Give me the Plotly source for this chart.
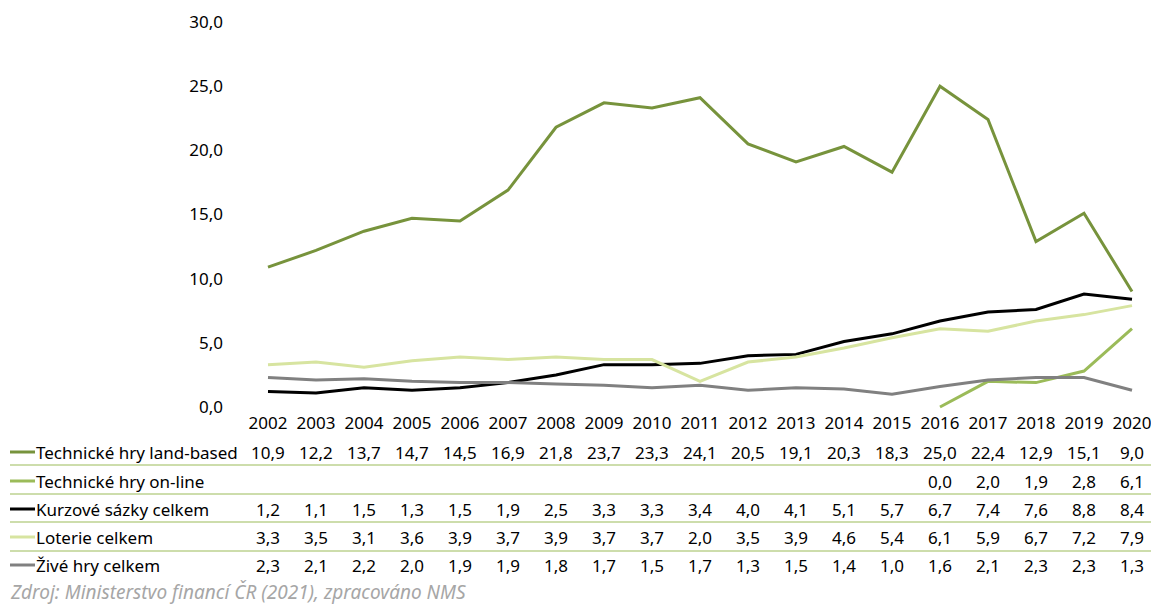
import plotly.graph_objects as go

# Données
roky = list(range(2002, 2021))
land_based = [10.9, 12.2, 13.7, 14.7, 14.5, 16.9, 21.8, 23.7, 23.3, 24.1, 20.5, 19.1, 20.3, 18.3, 25.0, 22.4, 12.9, 15.1, 9.0]
on_line = [None] * 14 + [0.0, 2.0, 1.9, 2.8, 6.1]
kurzove = [1.2, 1.1, 1.5, 1.3, 1.5, 1.9, 2.5, 3.3, 3.3, 3.4, 4.0, 4.1, 5.1, 5.7, 6.7, 7.4, 7.6, 8.8, 8.4]
loterie = [3.3, 3.5, 3.1, 3.6, 3.9, 3.7, 3.9, 3.7, 3.7, 2.0, 3.5, 3.9, 4.6, 5.4, 6.1, 5.9, 6.7, 7.2, 7.9]
zive = [2.3, 2.1, 2.2, 2.0, 1.9, 1.9, 1.8, 1.7, 1.5, 1.7, 1.3, 1.5, 1.4, 1.0, 1.6, 2.1, 2.3, 2.3, 1.3]

nazvy = ["Technické hry land-based", "Technické hry on-line", "Kurzové sázky celkem", "Loterie celkem", "Živé hry celkem"]
barvy = ["#77933c", "#9bbb59", "#000000", "#d7e4a0", "#808080"]
serie = [land_based, on_line, kurzove, loterie, zive]
zdroj = "Zdroj: Ministerstvo financí ČR (2021), zpracováno NMS"

# stránka má okraj 8 px (body margin) -> viditelná plocha je cca 1143 x 597
OFF = 8
W, H = 1159 - 2 * OFF, 605 - OFF
L = 230 - OFF
R = 16
plot_bottom = 410 - OFF
B = H - plot_bottom
plot_w = W - L - R
font = "Noto Sans, Open Sans, sans-serif"
fs = 17


def py(px):
    # pixel v referenci (od vrchu okna) -> souřadnice paper
    return (plot_bottom - (px - OFF)) / plot_bottom


def pxx(px):
    return (px - OFF - L) / plot_w


fig = go.Figure()
for nazev, barva, hodnoty in zip(nazvy, barvy, serie):
    fig.add_trace(go.Scatter(x=roky, y=hodnoty, name=nazev, mode="lines",
                             line=dict(color=barva, width=3), connectgaps=False))

# Tabulka pod grafem
radky_y = [452, 481, 509, 537, 565]
for nazev, barva, hodnoty, ry in zip(nazvy, barvy, serie, radky_y):
    fig.add_shape(type="line", xref="paper", yref="paper", x0=pxx(10), x1=pxx(35), y0=py(ry), y1=py(ry),
                  line=dict(color=barva, width=3))
    fig.add_annotation(x=pxx(34), y=py(ry), xref="paper", yref="paper", text=nazev, showarrow=False,
                       xanchor="left", yanchor="middle", font=dict(size=fs, color="#000000"))
    for rok, v in zip(roky, hodnoty):
        if v is None:
            continue
        fig.add_annotation(x=rok, y=py(ry), xref="x", yref="paper", text=f"{v:.1f}".replace(".", ","),
                           showarrow=False, xanchor="center", yanchor="middle",
                           font=dict(size=fs, color="#000000"))

for ly in [465, 494, 522, 551]:
    fig.add_shape(type="line", xref="paper", yref="paper", x0=pxx(10), x1=pxx(1151), y0=py(ly), y1=py(ly),
                  line=dict(color="#9bbb59", width=1))

# zdroj
fig.add_annotation(x=pxx(8), y=py(592), xref="paper", yref="paper", text=f"<i>{zdroj}</i>", showarrow=False,
                   xanchor="left", yanchor="middle", font=dict(size=19, color="#a6a6a6"))

px_per_year = (1132 - 268) / 18
x0 = 2002 - (268 - 230) / px_per_year
x1 = x0 + plot_w / px_per_year
px_per_unit = (407 - 22) / 30
y0 = -(410 - 407) / px_per_unit
y1 = 30 + (22 - OFF) / px_per_unit

fig.update_layout(
    width=W, height=H,
    margin=dict(l=L, r=R, t=0, b=B),
    paper_bgcolor="white", plot_bgcolor="white",
    showlegend=False,
    separators=",.",
    font=dict(family=font, size=fs, color="#000000"),
    xaxis=dict(range=[x0, x1], tickvals=roky, showgrid=False, zeroline=False, showline=False,
               ticks="", tickfont=dict(size=fs), ticklabelstandoff=1, ticklabeloverflow="allow"),
    yaxis=dict(range=[y0, y1], tickvals=[0, 5, 10, 15, 20, 25, 30], tickformat=".1f", showgrid=False,
               zeroline=False, showline=False, ticks="", tickfont=dict(size=fs), ticklabelstandoff=6),
)

fig.write_html("out.html")
